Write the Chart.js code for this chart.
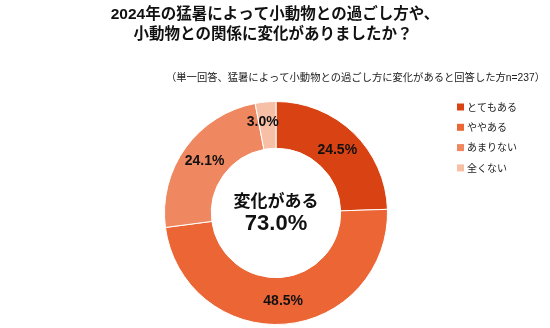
<!DOCTYPE html>
<html lang="ja">
<head>
<meta charset="utf-8">
<title>2024年の猛暑と小動物との関係の変化</title>
<script src="https://cdn.jsdelivr.net/npm/chart.js@4"></script>
<style>
  html, body { margin: 0; padding: 0; background: #fff; }
  #wrap { width: 550px; height: 328px; position: relative; }
</style>
</head>
<body>
<div id="wrap"><canvas id="c" width="550" height="328"></canvas></div>
<script>
// 回答カテゴリと割合（%）
const categories = ['とてもある', 'ややある', 'あまりない', '全くない'];
const shares = [24.5, 48.5, 24.1, 3.0];
const sliceColors = ['#D94213', '#EB6535', '#EF8760', '#F7BFA6'];

const titleLines = ['2024年の猛暑によって小動物との過ごし方や、', '小動物との関係に変化がありましたか？'];
const noteText = '（単一回答、猛暑によって小動物との過ごし方に変化があると回答した方n=237）';
const centerCaption = '変化がある';
// 「とてもある」+「ややある」
const changedShare = shares[0] + shares[1];

const FONT = '"Liberation Sans", "Noto Sans CJK JP", sans-serif';
const JP = '"Noto Sans CJK JP", sans-serif';

const textPlugin = {
  id: 'texts',
  afterDraw(chart) {
    const ctx = chart.ctx;
    ctx.save();
    ctx.fillStyle = '#111';
    ctx.textBaseline = 'middle';

    // タイトル
    ctx.textAlign = 'center';
    ctx.font = 'bold 15.5px ' + FONT;
    ctx.fillText(titleLines[0], 275, 15);
    ctx.fillText(titleLines[1], 273, 35);

    // 注記
    ctx.textAlign = 'right';
    ctx.font = '10.3px ' + FONT;
    ctx.fillStyle = '#222';
    ctx.fillText(noteText, 545, 78);

    // 凡例
    ctx.textAlign = 'left';
    ctx.font = '10px ' + JP;
    categories.forEach((name, i) => {
      const y = 107 + i * 20.3;
      ctx.fillStyle = sliceColors[i];
      ctx.fillRect(457, y - 3.5, 7, 7);
      ctx.fillStyle = '#222';
      ctx.fillText(name, 467, y);
    });

    // 各スライスの割合
    const meta = chart.getDatasetMeta(0);
    ctx.textAlign = 'center';
    ctx.fillStyle = '#111';
    ctx.font = 'bold 14px ' + FONT;
    meta.data.forEach((arc, i) => {
      const p = arc.tooltipPosition();
      // 細いスライスのラベルは外側寄りに置く
      const narrow = shares[i] < 5;
      const dx = narrow ? -5 : 0;
      const dy = narrow ? -3 : 0;
      ctx.fillText(shares[i].toFixed(1) + '%', p.x + dx, p.y + dy);
    });

    // 中央テキスト
    const a0 = meta.data[0];
    ctx.font = 'bold 17px ' + JP;
    ctx.fillText(centerCaption, a0.x, a0.y - 12);
    ctx.font = 'bold 22px ' + FONT;
    ctx.fillText(changedShare.toFixed(1) + '%', a0.x, a0.y + 11);
    ctx.restore();
  }
};

new Chart(document.getElementById('c'), {
  type: 'doughnut',
  data: {
    labels: categories,
    datasets: [{
      data: shares,
      backgroundColor: sliceColors,
      borderColor: '#ffffff',
      borderWidth: 1
    }]
  },
  options: {
    responsive: false,
    devicePixelRatio: 1,
    animation: false,
    cutout: '58%',
    layout: { padding: { left: 163, right: 161, top: 101, bottom: 3 } },
    plugins: {
      legend: { display: false },
      title: { display: false },
      tooltip: { enabled: false }
    }
  },
  plugins: [textPlugin]
});
</script>
</body>
</html>
